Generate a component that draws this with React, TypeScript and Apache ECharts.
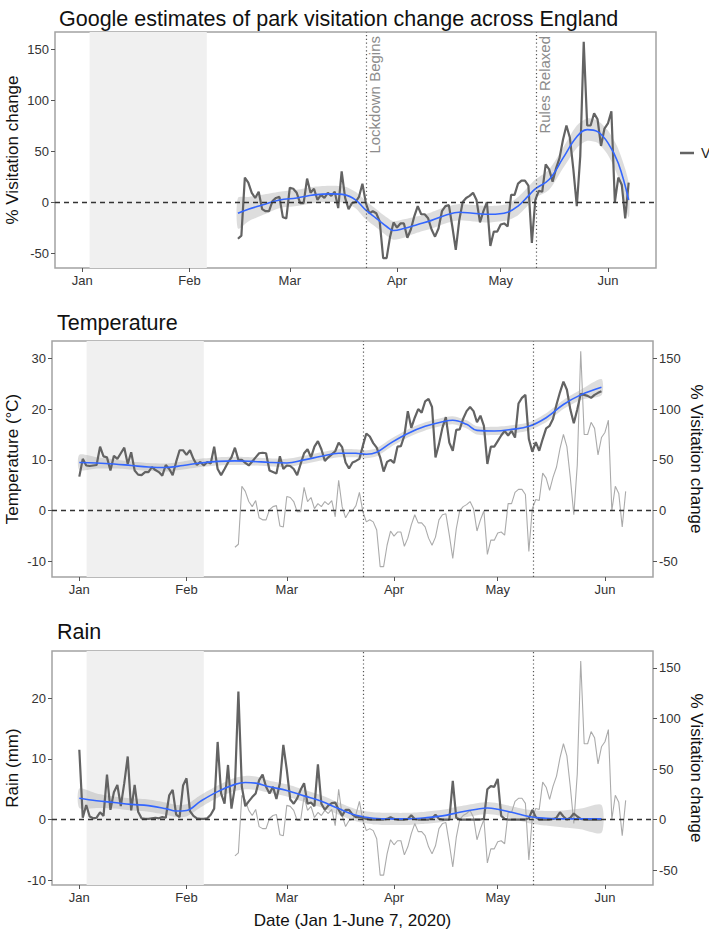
import React, { useEffect, useRef } from 'react';
import * as echarts from 'echarts';

// ---- axes / calendar (day 0 = 1 Jan 2020) ----
const MONTH_DAYS = [0, 31, 60, 91, 121, 152];
const MONTH_LABELS = ['Jan', 'Feb', 'Mar', 'Apr', 'May', 'Jun'];
const X_MIN = -7.9;
const X_MAX = 165.9;
const VIS_TICKS = [-50, 0, 50, 100, 150];
const TEMP_TICKS = [-10, 0, 10, 20, 30];
const RAIN_TICKS = [-10, 0, 10, 20];

const BASELINE_START = 2.1; // 3 Jan
const BASELINE_END = 36; // 6 Feb
const LOCKDOWN_DAY = 82; // 23 Mar
const RELAXED_DAY = 131.2; // ~11-13 May

// ---- Google park visitation change (%), daily from 15 Feb (day 45) ----
const VIS_START = 45;
const visitation = [
  -36, -33, 24, 19, 9, 4, 10, -7, -9, -9, 1, 4, 5, -15, -16,
  14, 13, 9, -1, -1, 23, 9, 13, 2, 7, 4, 9, 6, 10, -6, 30, 4, -7, -1, 0, 5, 18,
  -1, -11, -9, -11, -19, -55, -55, -34, -20, -25, -21, -21, -35, -27, -14, -4, -12, -12,
  -16, -27, -34, -26, -9, -4, -3, -24, -47, -18, 0, 4, 6, 9, 2, -20, -9, 0,
  -43, -29, -29, -22, -21, -24, 7, 7, 18, 21, 21, 16, -40, 2, 11, 10, 37, 32, 20,
  33, 43, 61, 75, 63, 32, -4, 45, 157, 75, 75, 87, 81, 55, 72, 77, 89, 0, 24, 17, -16, 19,
];

// ---- Temperature (°C), daily from 1 Jan ----
const TEMP_START = 0;
const temperature = [
  6.7, 10.2, 8.9, 8.8, 8.9, 9.0, 12.6, 10.7, 10.5, 7.9, 10.8, 10.2, 11.3, 12.4, 9.2, 11.5,
  7.9, 7.1, 7.0, 7.6, 7.6, 8.6, 8.0, 7.6, 6.9, 9.0, 8.2, 7.0, 9.6, 11.9, 11.9,
  11.0, 11.9, 10.2, 9.0, 9.6, 8.9, 9.6, 9.3, 12.6, 8.2, 7.0, 8.2, 9.5, 10.5, 12.4, 10.0,
  10.0, 9.4, 8.9, 9.7, 10.5, 11.3, 11.4, 11.3, 7.9, 7.6, 7.3, 10.7, 8.2,
  8.9, 8.8, 8.2, 7.0, 9.2, 11.3, 12.1, 10.5, 12.6, 13.7, 12.1, 9.8, 10.5, 11.1, 11.7,
  13.4, 12.5, 9.5, 8.3, 9.5, 9.8, 10.2, 12.8, 15.2, 14.6, 13.3, 12.4, 10.5, 7.7, 9.6, 10.0,
  9.4, 12.6, 12.7, 14.8, 19.6, 16.3, 18.3, 20.0, 19.3, 21.5, 22.0, 20.4, 10.5, 13.1, 16.3,
  18.4, 13.4, 11.8, 15.9, 16.0, 18.1, 19.6, 20.4, 19.6, 17.4, 18.7, 16.7, 9.2, 12.6, 12.6,
  13.7, 14.8, 15.7, 14.8, 15.7, 14.4, 21.1, 22.2, 22.8, 14.1, 11.6, 13.5, 11.8, 14.1, 16.2,
  16.7, 18.1, 20.9, 23.3, 25.4, 23.8, 19.9, 17.2, 19.9, 23.0, 22.8, 22.6, 22.2, 22.8, 23.2, 23.5,
];

// ---- Rain (mm), daily from 1 Jan ----
const RAIN_START = 0;
const rain = [
  11.5, 0.3, 2.4, 0.5, 0.2, 0.3, 1.2, 0.6, 7.4, 1.6, 4.5, 5.7, 2.2, 6.0, 10.4, 1.5,
  5.7, 1.3, 0.2, 0.1, 0.1, 0.2, 0.3, 0.2, 0.4, 0.3, 4.0, 4.9, 0.8, 0.4, 5.6,
  6.8, 1.4, 0.6, 0.2, 0.1, 0.1, 0.2, 0.8, 1.8, 12.8, 4.3, 2.6, 9.0, 1.8, 5.4, 21.1,
  5.4, 2.2, 3.0, 3.7, 4.3, 6.5, 7.4, 5.4, 4.3, 5.4, 3.4, 6.0, 12.3,
  8.2, 3.3, 2.6, 3.5, 4.9, 6.0, 2.6, 2.8, 2.2, 9.1, 2.6, 1.6, 2.3, 2.7, 2.8,
  1.6, 0.6, 1.6, 1.6, 0.8, 0.4, 0.4, 0.3, 0.1, 0, 0, 0, 0, 0, 0.1, 0.4,
  0.1, 0, 0, 0, 0.1, 0.7, 0.1, 0, 0, 0, 0, 0.2, 0.8, 0.1, 0,
  0, 0, 6.4, 0.3, 0, 0, 0, 0, 0, 0, 0, 0.1, 5.0, 5.5, 5.4,
  6.7, 0.6, 0.1, 0, 0, 0, 0, 0, 0, 0.2, 1.6, 0.4, 0, 0, 0,
  0, 0.1, 0.3, 1.2, 0.5, 0, 0.3, 1.0, 0.5, 0.1, 0, 0, 0, 0, 0, 0,
];

// ---- loess fits (fit and half-width of the grey band) ----
const visFitDays = [45, 48, 52, 57, 62, 67, 72, 76, 79, 82, 85, 88, 90, 93, 97, 101, 105, 109, 113, 118, 123, 126, 129, 131, 135, 139, 143, 146, 149, 152, 155, 158];
const visFit = [-11, -7, -3, 2, 4, 7, 8, 7, 2, -8, -16, -24, -28, -26, -22, -18, -13, -10, -11, -12, -10, -4, 6, 13, 22, 43, 64, 71, 69, 58, 38, 2];
const visSe = [15, 12, 10, 8, 8, 8, 8, 8, 8, 9, 9, 9, 9, 9, 8, 8, 8, 8, 8, 8, 8, 9, 9, 9, 10, 10, 11, 11, 11, 12, 14, 17];

const tempFitDays = [0, 5, 10, 15, 20, 25, 30, 35, 40, 45, 50, 55, 60, 65, 70, 75, 80, 83, 86, 90, 95, 100, 105, 108, 112, 115, 120, 125, 130, 135, 140, 145, 151];
const tempFit = [9.5, 9.4, 9.2, 8.9, 8.6, 8.5, 8.9, 9.4, 9.7, 9.8, 9.7, 9.5, 9.4, 10.0, 10.7, 11.3, 11.3, 11.1, 11.5, 13.3, 15.2, 16.6, 17.5, 17.8, 17.0, 15.8, 15.7, 16.0, 16.6, 18.3, 20.9, 22.8, 24.3];
const tempSe = [1.5, 1.1, 0.9, 0.8, 0.8, 0.8, 0.8, 0.8, 0.8, 0.8, 0.8, 0.8, 0.8, 0.8, 0.8, 0.8, 0.8, 0.8, 0.8, 0.8, 0.8, 0.8, 0.8, 0.8, 0.8, 0.8, 0.8, 0.8, 0.8, 0.9, 0.9, 1.0, 1.6];

const rainFitDays = [0, 5, 10, 15, 20, 25, 28, 31, 35, 40, 45, 48, 51, 55, 60, 65, 70, 75, 80, 85, 90, 95, 100, 105, 110, 115, 118, 121, 125, 130, 135, 140, 145, 151];
const rainFit = [3.5, 3.1, 2.8, 2.5, 2.3, 1.8, 1.4, 1.5, 3.0, 4.6, 5.8, 6.1, 6.0, 5.4, 4.8, 3.9, 3.0, 1.8, 0.7, 0.2, 0.1, 0.1, 0.3, 0.6, 1.2, 1.7, 1.9, 1.7, 1.2, 0.5, 0.2, 0.1, 0.1, 0.1];
const rainSe = [1.6, 1.2, 1.0, 1.0, 1.0, 1.0, 1.0, 1.0, 1.0, 1.0, 1.1, 1.1, 1.1, 1.0, 1.0, 1.0, 1.0, 1.0, 1.0, 1.0, 1.0, 1.0, 1.0, 1.0, 1.0, 1.0, 1.0, 1.0, 1.0, 1.1, 1.2, 1.4, 1.7, 2.3];

// ---- layout ----
const FONT = "'Liberation Sans', Arial, sans-serif";
const GRIDS = [
  { left: 55, top: 32, width: 601, height: 236 },
  { left: 52, top: 341, width: 601, height: 236 },
  { left: 52, top: 651, width: 601, height: 234 },
];
const DARK = '#636363';
const LIGHT = '#ababab';
const BLUE = '#3366FF';
const BAND = 'rgba(150,150,150,0.32)';

const daySeries = (start: number, arr: number[]) => arr.map((v, i) => [start + i, v]);
const pxX = (g: number, day: number) => GRIDS[g].left + ((day - X_MIN) / (X_MAX - X_MIN)) * GRIDS[g].width;

function bandSeries(g: number, yIdx: number, days: number[], fit: number[], se: number[]) {
  return {
    type: 'custom', xAxisIndex: g, yAxisIndex: yIdx, silent: true, z: 2, clip: true,
    data: [[days[0], fit[0]]],
    renderItem: (_params: any, api: any) => {
      const up = days.map((d, i) => api.coord([d, fit[i] + se[i]]));
      const lo = days.map((d, i) => api.coord([d, fit[i] - se[i]])).reverse();
      return {
        type: 'polygon',
        shape: { points: up.concat(lo), smooth: 0.25 },
        style: { fill: BAND },
      };
    },
  };
}

function fitSeries(g: number, yIdx: number, days: number[], fit: number[]) {
  return {
    type: 'line', xAxisIndex: g, yAxisIndex: yIdx, data: days.map((d, i) => [d, fit[i]]),
    symbol: 'none', smooth: 0.4, lineStyle: { color: BLUE, width: 1.6 }, silent: true, z: 4,
  };
}

function refLines(g: number, yIdx: number) {
  return {
    type: 'line', xAxisIndex: g, yAxisIndex: yIdx, data: [], silent: true,
    markArea: {
      silent: true,
      itemStyle: { color: '#f0f0f0' },
      data: [[{ xAxis: BASELINE_START }, { xAxis: BASELINE_END }]],
    },
    markLine: {
      silent: true, symbol: ['none', 'none'], label: { show: false },
      data: [
        { yAxis: 0, lineStyle: { color: '#333', width: 1.3, type: [5, 4] } },
        { xAxis: LOCKDOWN_DAY, lineStyle: { color: '#555', width: 1.2, type: [1.2, 2.6] } },
        { xAxis: RELAXED_DAY, lineStyle: { color: '#555', width: 1.2, type: [1.2, 2.6] } },
      ],
    },
  };
}

function xAxisFor(g: number) {
  const ax: any = {
    type: 'value', gridIndex: g, min: X_MIN, max: X_MAX, position: 'bottom',
    axisLine: { show: false, onZero: false }, splitLine: { show: false },
    axisTick: { show: true, customValues: MONTH_DAYS, length: 4, lineStyle: { color: '#555' } },
    axisLabel: {
      customValues: MONTH_DAYS, margin: 6, fontSize: 13, color: '#333', fontFamily: FONT,
      formatter: (v: number) => MONTH_LABELS[MONTH_DAYS.indexOf(Math.round(v))] ?? '',
    },
  };
  if (g === 2) {
    ax.name = 'Date (Jan 1-June 7, 2020)';
    ax.nameLocation = 'middle';
    ax.nameGap = 27;
    ax.nameMoveOverlap = false;
    ax.nameTextStyle = { fontSize: 17, color: '#111', fontFamily: FONT };
  }
  return ax;
}

function yAxisFor(g: number, min: number, max: number, ticks: number[], name: string, right: boolean, gap: number) {
  return {
    type: 'value', gridIndex: g, min, max, position: right ? 'right' : 'left',
    axisLine: { show: false, onZero: false }, splitLine: { show: false },
    axisTick: { show: true, customValues: ticks, length: 4, lineStyle: { color: '#555' } },
    axisLabel: { customValues: ticks, margin: 6, fontSize: 13, color: '#333', fontFamily: FONT },
    name, nameLocation: 'middle', nameGap: gap, nameRotate: right ? -90 : 90, nameMoveOverlap: false,
    nameTextStyle: { fontSize: 17, color: '#111', fontFamily: FONT },
  };
}

const option: any = {
  animation: false,
  backgroundColor: '#ffffff',
  textStyle: { fontFamily: FONT },
  title: [
    { text: 'Google estimates of park visitation change across England', left: 54, top: 3, textStyle: { fontSize: 21.5, fontWeight: 'normal', color: '#111', fontFamily: FONT } },
    { text: 'Temperature', left: 52, top: 307, textStyle: { fontSize: 21.5, fontWeight: 'normal', color: '#111', fontFamily: FONT } },
    { text: 'Rain', left: 52, top: 616, textStyle: { fontSize: 21.5, fontWeight: 'normal', color: '#111', fontFamily: FONT } },
  ],
  grid: GRIDS.map((g) => ({
    ...g, show: true, borderColor: '#a3a3a3', borderWidth: 1.5, backgroundColor: 'transparent',
    containLabel: false, outerBoundsMode: 'none',
  })),
  xAxis: [xAxisFor(0), xAxisFor(1), xAxisFor(2)],
  yAxis: [
    yAxisFor(0, -64.7, 166.7, VIS_TICKS, '% Visitation change', false, 34),
    yAxisFor(1, -13.05, 33.4, TEMP_TICKS, 'Temperature (°C)', false, 31),
    yAxisFor(1, -65.25, 167, VIS_TICKS, '% Visitation change', true, 35),
    yAxisFor(2, -10.8, 27.8, RAIN_TICKS, 'Rain (mm)', false, 31),
    yAxisFor(2, -64.8, 166.8, VIS_TICKS, '% Visitation change', true, 35),
  ],
  series: [
    // panel 1: visitation
    refLines(0, 0),
    bandSeries(0, 0, visFitDays, visFit, visSe),
    { type: 'line', name: 'Visitation', xAxisIndex: 0, yAxisIndex: 0, data: daySeries(VIS_START, visitation), symbol: 'none', lineStyle: { color: DARK, width: 2.2 }, silent: true, z: 3 },
    fitSeries(0, 0, visFitDays, visFit),
    // panel 2: temperature
    refLines(1, 1),
    bandSeries(1, 1, tempFitDays, tempFit, tempSe),
    { type: 'line', xAxisIndex: 1, yAxisIndex: 2, data: daySeries(VIS_START, visitation), symbol: 'none', lineStyle: { color: LIGHT, width: 1.1 }, silent: true, z: 2 },
    { type: 'line', xAxisIndex: 1, yAxisIndex: 1, data: daySeries(TEMP_START, temperature), symbol: 'none', lineStyle: { color: DARK, width: 2.2 }, silent: true, z: 3 },
    fitSeries(1, 1, tempFitDays, tempFit),
    // panel 3: rain
    refLines(2, 3),
    bandSeries(2, 3, rainFitDays, rainFit, rainSe),
    { type: 'line', xAxisIndex: 2, yAxisIndex: 4, data: daySeries(VIS_START, visitation), symbol: 'none', lineStyle: { color: LIGHT, width: 1.1 }, silent: true, z: 2 },
    { type: 'line', xAxisIndex: 2, yAxisIndex: 3, data: daySeries(RAIN_START, rain), symbol: 'none', lineStyle: { color: DARK, width: 2.2 }, silent: true, z: 3 },
    fitSeries(2, 3, rainFitDays, rainFit),
  ],
  graphic: [
    { type: 'text', x: pxX(0, (BASELINE_START + BASELINE_END) / 2), y: 51, style: { text: 'Baseline', fontSize: 16, fill: '#8c8c8c', textAlign: 'center', textVerticalAlign: 'middle', fontFamily: FONT }, silent: true },
    { type: 'text', x: pxX(0, LOCKDOWN_DAY) + 1, y: 36, rotation: Math.PI / 2, style: { text: 'Lockdown Begins', fontSize: 15, fill: '#8c8c8c', textAlign: 'right', textVerticalAlign: 'top', fontFamily: FONT }, silent: true },
    { type: 'text', x: pxX(0, RELAXED_DAY) + 1, y: 36, rotation: Math.PI / 2, style: { text: 'Rules Relaxed', fontSize: 15, fill: '#8c8c8c', textAlign: 'right', textVerticalAlign: 'top', fontFamily: FONT }, silent: true },
    { type: 'line', shape: { x1: 680, y1: 153, x2: 694, y2: 153 }, style: { stroke: DARK, lineWidth: 2.5 }, silent: true },
    { type: 'text', x: 701, y: 153, style: { text: 'V', fontSize: 14, fill: '#222', textVerticalAlign: 'middle', fontFamily: FONT }, silent: true },
  ],
};

export default function App() {
  const ref = useRef<HTMLDivElement>(null);
  useEffect(() => {
    if (!ref.current) return;
    const chart = echarts.init(ref.current, null, { renderer: 'svg' });
    chart.setOption(option);
    return () => chart.dispose();
  }, []);
  return <div ref={ref} style={{ position: 'fixed', left: 0, top: 0, width: 709, height: 930, background: '#fff' }} />;
}
